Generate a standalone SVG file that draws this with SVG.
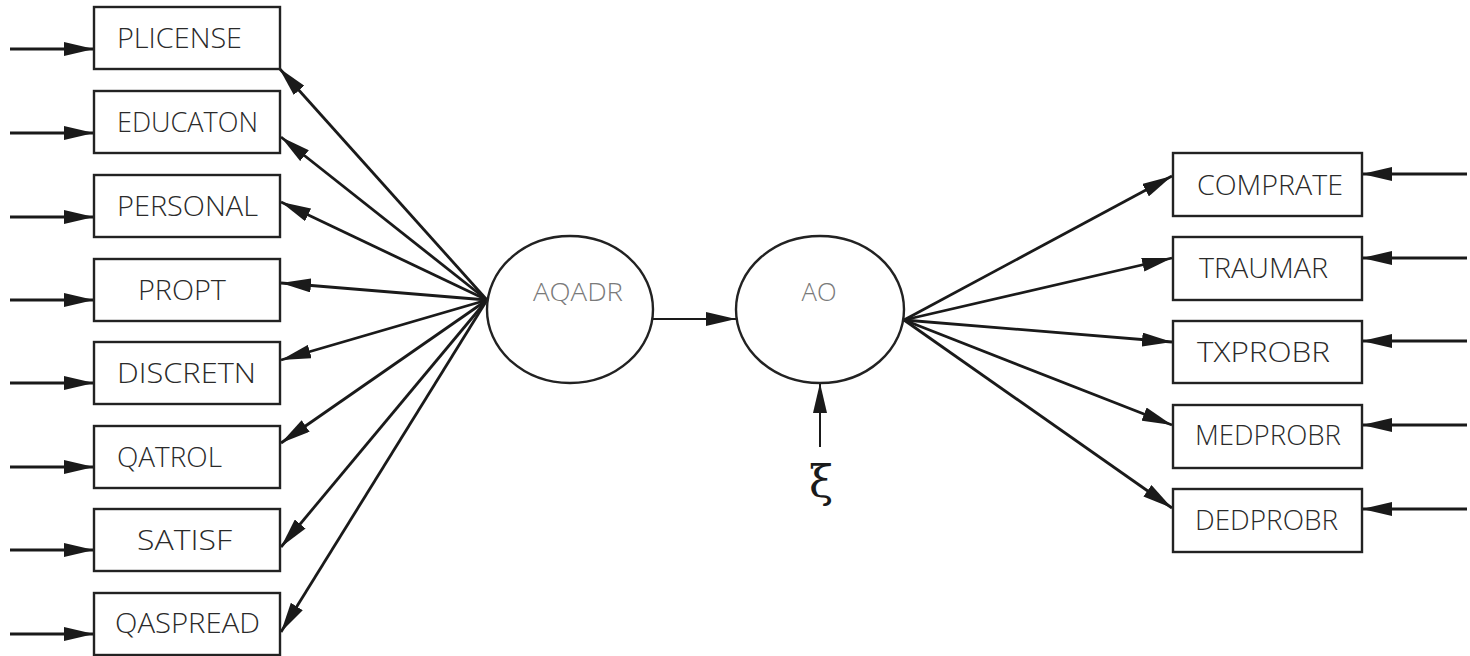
<svg xmlns="http://www.w3.org/2000/svg" width="1470" height="656" viewBox="0 0 1470 656">
  <style>
    .box { fill: #ffffff; stroke: #222222; stroke-width: 2.4; }
    .lat { fill: #ffffff; stroke: #222222; stroke-width: 2.4; }
    .lbl { font-family: "Open Sans", "Liberation Sans", sans-serif; font-weight: 300; font-size: 27px; fill: #2a2a2a; }
    .llbl { font-family: "Open Sans", "Liberation Sans", sans-serif; font-weight: 300; font-size: 25px; fill: #7a7a7a; }
    .edge { stroke: #1a1a1a; stroke-width: 2.8; fill: none; marker-end: url(#head); }
    .thin { stroke: #1a1a1a; stroke-width: 2; fill: none; marker-end: url(#head); }
  </style>
  <defs>
    <marker id="head" viewBox="0 0 30 14" refX="30" refY="7" markerWidth="30" markerHeight="14" markerUnits="userSpaceOnUse" orient="auto">
      <path d="M0,0 L30,7 L0,14 Z" fill="#1a1a1a"/>
    </marker>
  </defs>
  <rect width="1470" height="656" fill="#ffffff"/>

  <!-- connectors -->
  <g id="connectors">
    <!-- error terms into the left indicators -->
    <line class="edge" x1="10" y1="49" x2="94" y2="49"/>
    <line class="edge" x1="10" y1="133" x2="94" y2="133"/>
    <line class="edge" x1="10" y1="217" x2="94" y2="217"/>
    <line class="edge" x1="10" y1="300" x2="94" y2="300"/>
    <line class="edge" x1="10" y1="383" x2="94" y2="383"/>
    <line class="edge" x1="10" y1="467" x2="94" y2="467"/>
    <line class="edge" x1="10" y1="550" x2="94" y2="550"/>
    <line class="edge" x1="10" y1="634" x2="94" y2="634"/>
    <!-- AQADR loadings -->
    <line class="edge" x1="487" y1="300" x2="279" y2="68"/>
    <line class="edge" x1="487" y1="300" x2="281" y2="137"/>
    <line class="edge" x1="487" y1="300" x2="281" y2="202"/>
    <line class="edge" x1="487" y1="300" x2="281" y2="283"/>
    <line class="edge" x1="487" y1="300" x2="281" y2="360"/>
    <line class="edge" x1="487" y1="300" x2="281" y2="443"/>
    <line class="edge" x1="487" y1="300" x2="281" y2="547"/>
    <line class="edge" x1="487" y1="300" x2="281" y2="632"/>
    <!-- structural path -->
    <line class="thin" x1="653" y1="319" x2="736" y2="319"/>
    <!-- disturbance -->
    <line class="thin" x1="820" y1="447" x2="820" y2="383"/>
    <!-- AO loadings -->
    <line class="edge" x1="904" y1="320" x2="1172" y2="176"/>
    <line class="edge" x1="904" y1="320" x2="1172" y2="258"/>
    <line class="edge" x1="904" y1="320" x2="1172" y2="342"/>
    <line class="edge" x1="904" y1="320" x2="1172" y2="425"/>
    <line class="edge" x1="904" y1="320" x2="1172" y2="508"/>
    <!-- error terms into the right indicators -->
    <line class="edge" x1="1467" y1="174" x2="1362" y2="174"/>
    <line class="edge" x1="1467" y1="258" x2="1362" y2="258"/>
    <line class="edge" x1="1467" y1="341" x2="1362" y2="341"/>
    <line class="edge" x1="1467" y1="425" x2="1362" y2="425"/>
    <line class="edge" x1="1467" y1="509" x2="1362" y2="509"/>
  </g>

  <!-- left indicators -->
  <g id="plicense"><rect class="box" x="94" y="7" width="186" height="62"/><text class="lbl" x="117" y="48" textLength="125" lengthAdjust="spacingAndGlyphs">PLICENSE</text></g>
  <g id="educaton"><rect class="box" x="94" y="91" width="186" height="62"/><text class="lbl" x="117" y="132" textLength="141" lengthAdjust="spacingAndGlyphs">EDUCATON</text></g>
  <g id="personal"><rect class="box" x="94" y="175" width="186" height="62"/><text class="lbl" x="117" y="216" textLength="141" lengthAdjust="spacingAndGlyphs">PERSONAL</text></g>
  <g id="propt"><rect class="box" x="94" y="259" width="186" height="62"/><text class="lbl" x="138" y="300" textLength="88" lengthAdjust="spacingAndGlyphs">PROPT</text></g>
  <g id="discretn"><rect class="box" x="94" y="342" width="186" height="62"/><text class="lbl" x="117" y="383" textLength="139" lengthAdjust="spacingAndGlyphs">DISCRETN</text></g>
  <g id="qatrol"><rect class="box" x="94" y="426" width="186" height="62"/><text class="lbl" x="117" y="467" textLength="105" lengthAdjust="spacingAndGlyphs">QATROL</text></g>
  <g id="satisf"><rect class="box" x="94" y="509" width="186" height="62"/><text class="lbl" x="137" y="550" textLength="95" lengthAdjust="spacingAndGlyphs">SATISF</text></g>
  <g id="qaspread"><rect class="box" x="94" y="593" width="186" height="62"/><text class="lbl" x="115" y="633" textLength="145" lengthAdjust="spacingAndGlyphs">QASPREAD</text></g>

  <!-- latent variables -->
  <g id="aqadr"><ellipse class="lat" cx="570" cy="309.5" rx="83" ry="73.5"/><text class="llbl" x="578" y="301" text-anchor="middle" textLength="90" lengthAdjust="spacingAndGlyphs">AQADR</text></g>
  <g id="ao"><ellipse class="lat" cx="820" cy="309.5" rx="84" ry="73.5"/><text class="llbl" x="819" y="301" text-anchor="middle" textLength="35" lengthAdjust="spacingAndGlyphs">AO</text></g>
  <g id="xi"><text x="821" y="497" text-anchor="middle" font-family="DejaVu Serif, serif" font-size="44" fill="#1a1a1a">ξ</text></g>

  <!-- right indicators -->
  <g id="comprate"><rect class="box" x="1173" y="153" width="189" height="63"/><text class="lbl" x="1197" y="195" textLength="146" lengthAdjust="spacingAndGlyphs">COMPRATE</text></g>
  <g id="traumar"><rect class="box" x="1173" y="237" width="189" height="63"/><text class="lbl" x="1199" y="278" textLength="129" lengthAdjust="spacingAndGlyphs">TRAUMAR</text></g>
  <g id="txprobr"><rect class="box" x="1173" y="321" width="189" height="62"/><text class="lbl" x="1197" y="362" textLength="133" lengthAdjust="spacingAndGlyphs">TXPROBR</text></g>
  <g id="medprobr"><rect class="box" x="1173" y="405" width="189" height="63"/><text class="lbl" x="1195" y="445" textLength="146" lengthAdjust="spacingAndGlyphs">MEDPROBR</text></g>
  <g id="dedprobr"><rect class="box" x="1173" y="489" width="189" height="63"/><text class="lbl" x="1195" y="530" textLength="143" lengthAdjust="spacingAndGlyphs">DEDPROBR</text></g>
</svg>
